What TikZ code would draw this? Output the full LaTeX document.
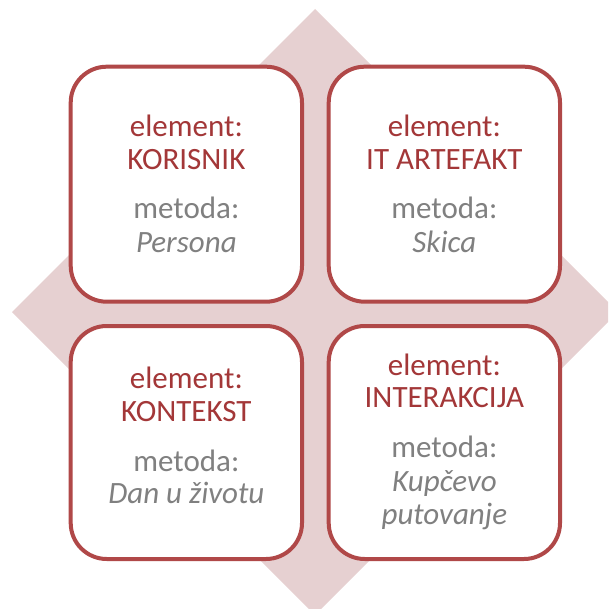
\documentclass[tikz,border=0pt]{standalone}
\usepackage{fontspec}
\setmainfont{Carlito}
\definecolor{framered}{RGB}{176,72,72}
\definecolor{diamfill}{RGB}{230,208,209}
\definecolor{elred}{RGB}{163,55,56}
\definecolor{mgrey}{RGB}{128,128,128}
\tikzset{
  box/.style={draw=framered, line width=4pt, fill=white, rounded corners=36pt,
    minimum width=231.3pt, inner sep=0pt, outer sep=0pt},
  lbl/.style={anchor=base, inner sep=0pt, font=\fontsize{31}{34}\selectfont},
  redlbl/.style={lbl, text=elred},
  greylbl/.style={lbl, text=mgrey},
  itlbl/.style={lbl, text=mgrey, font=\fontsize{31}{34}\selectfont\itshape}
}
\begin{document}
\begin{tikzpicture}[x=1pt,y=-1pt]
\useasboundingbox (0,0) rectangle (608,609);
\clip (0,0) rectangle (608,609);
\fill[diamfill] (315,9) -- (618,312) -- (315,615) -- (12,312) -- cycle;
\node[box, minimum height=235pt] (tl) at (186.35,184.2) {};
\node[box, minimum height=235pt] (tr) at (444.35,184.2) {};
\node[box, minimum height=233pt] (bl) at (186.35,442.5) {};
\node[box, minimum height=233pt] (br) at (444.35,442.5) {};
% top left
\node[redlbl] (tl1) at (186.35,137) {element:};
\node[redlbl] (tl2) at (186.35,170) {KORISNIK};
\node[greylbl] (tl3) at (186.35,219) {metoda:};
\node[itlbl] (tl4) at (186.35,252) {Persona};
% top right
\node[redlbl] (tr1) at (444.35,137) {element:};
\node[redlbl] (tr2) at (444.35,170) {IT ARTEFAKT};
\node[greylbl] (tr3) at (444.35,219) {metoda:};
\node[itlbl] (tr4) at (444.35,252) {Skica};
% bottom left
\node[redlbl] (bl1) at (186.35,388) {element:};
\node[redlbl] (bl2) at (186.35,421) {KONTEKST};
\node[greylbl] (bl3) at (186.35,471) {metoda:};
\node[itlbl] (bl4) at (186.35,503) {Dan u životu};
% bottom right
\node[redlbl] (br1) at (444.35,375) {element:};
\node[redlbl] (br2) at (444.35,407) {INTERAKCIJA};
\node[greylbl] (br3) at (444.35,457) {metoda:};
\node[itlbl] (br4) at (444.35,491) {Kupčevo};
\node[itlbl] (br5) at (444.35,524) {putovanje};
\end{tikzpicture}
\end{document}
